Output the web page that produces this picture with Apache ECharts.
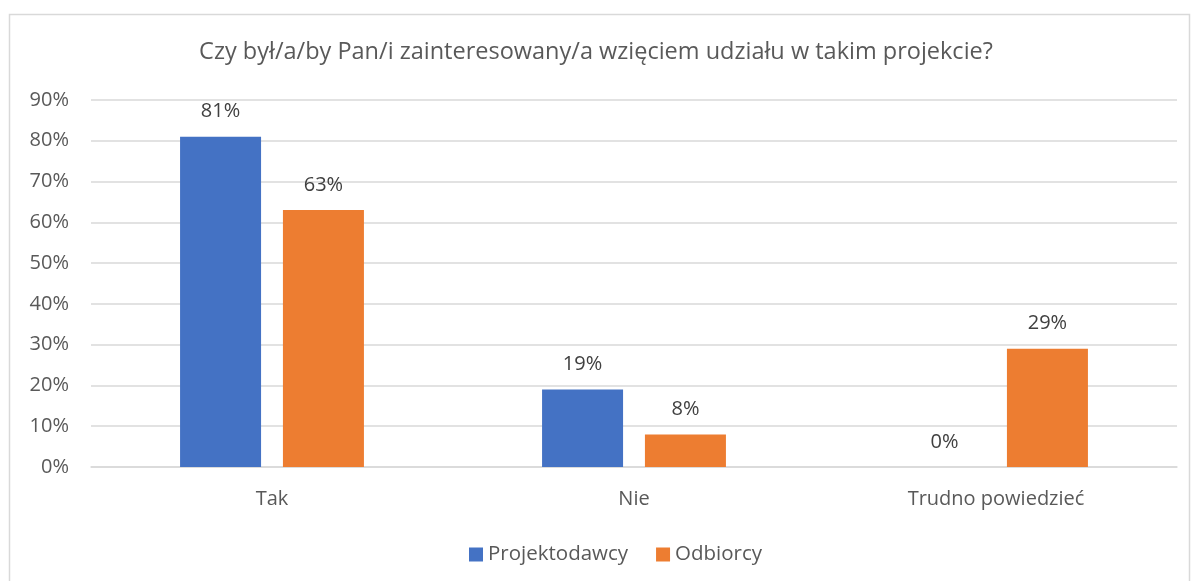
<!DOCTYPE html>
<html>
<head>
<meta charset="utf-8">
<script src="https://cdn.jsdelivr.net/npm/echarts@6/dist/echarts.min.js"></script>
<style>
  html, body { margin: 0; padding: 0; background: #fff; }
  #chart { width: 1192px; height: 581px; }
</style>
</head>
<body>
<div id="chart"></div>
<script>
const categories = ["Tak", "Nie", "Trudno powiedzieć"];
const projektodawcy = [81, 19, 0];
const odbiorcy = [63, 8, 29];
const seriesNames = ["Projektodawcy", "Odbiorcy"];

const font = "'Open Sans', 'Noto Sans', sans-serif";
const chart = echarts.init(document.getElementById("chart"));

const labelStyle = {
  show: true,
  position: "top",
  distance: 15,
  formatter: "{c}%",
  color: "#404040",
  fontFamily: font,
  fontSize: 20,
};

chart.setOption({
  backgroundColor: "#fff",
  animation: false,
  graphic: [
    {
      type: "rect",
      shape: { x: 9.5, y: 14.5, width: 1180, height: 600 },
      style: { fill: "none", stroke: "#d9d9d9", lineWidth: 1.5 },
      silent: true,
    },
  ],
  title: {
    text: "Czy był/a/by Pan/i zainteresowany/a wzięciem udziału w takim projekcie?",
    left: "center",
    top: 35,
    textStyle: {
      fontFamily: font,
      fontWeight: "normal",
      fontSize: 23.5,
      color: "#595959",
    },
  },
  legend: {
    data: seriesNames,
    left: 464,
    top: 539,
    icon: "rect",
    itemWidth: 14,
    itemHeight: 14,
    itemGap: 28,
    textStyle: { fontFamily: font, fontSize: 20.5, color: "#595959" },
  },
  grid: { left: 91, right: 15, top: 100, bottom: 114 },
  xAxis: {
    type: "category",
    data: categories,
    axisLine: { lineStyle: { color: "#d9d9d9", width: 1.5 } },
    axisTick: { show: false },
    axisLabel: {
      margin: 22,
      fontFamily: font,
      fontSize: 20,
      color: "#595959",
    },
  },
  yAxis: {
    type: "value",
    min: 0,
    max: 90,
    interval: 10,
    axisLine: { show: false },
    axisTick: { show: false },
    axisLabel: {
      formatter: "{value}%",
      margin: 22,
      fontFamily: font,
      fontSize: 20,
      color: "#595959",
    },
    splitLine: { lineStyle: { color: "#d9d9d9", width: 1.5 } },
  },
  series: [
    {
      name: seriesNames[0],
      type: "bar",
      data: projektodawcy,
      barWidth: 81,
      barGap: "27%",
      itemStyle: { color: "#4472C4" },
      label: labelStyle,
    },
    {
      name: seriesNames[1],
      type: "bar",
      data: odbiorcy,
      barWidth: 81,
      itemStyle: { color: "#ED7D31" },
      label: labelStyle,
    },
  ],
});
</script>
</body>
</html>
